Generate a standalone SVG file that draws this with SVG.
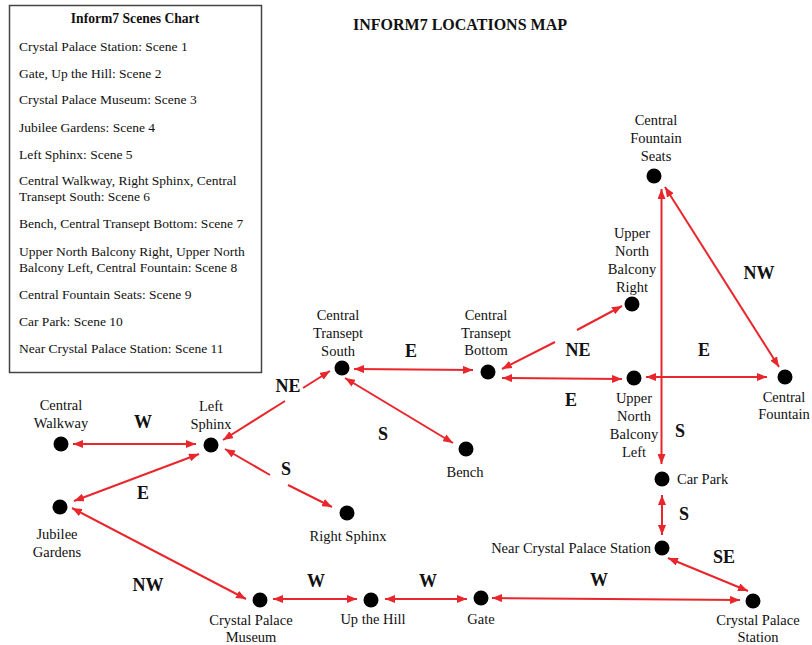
<svg xmlns="http://www.w3.org/2000/svg" width="812" height="645" viewBox="0 0 812 645">
<style>
text{font-family:"Liberation Serif","Times New Roman",serif;fill:#111}
.t{font-size:16px;font-weight:bold;text-anchor:middle}
.ct{font-size:13.6px;font-weight:bold;text-anchor:middle}
.ce{font-size:13.5px}
.n{font-size:14.5px;text-anchor:middle}
.d{font-size:18px;font-weight:bold;text-anchor:middle}
.dot{fill:#000}
.e{fill:none;stroke:#e8262b;stroke-width:2;marker-start:url(#ah);marker-end:url(#ah)}
</style>
<defs>
<marker id="ah" viewBox="0 0 10 8" refX="10" refY="4" markerWidth="10" markerHeight="8" orient="auto-start-reverse" markerUnits="userSpaceOnUse"><path d="M0,0 L10,4 L0,8 z" fill="#e8262b"/></marker>
</defs>
<rect width="812" height="645" fill="#fff"/>
<text class="t" x="460" y="30">INFORM7 LOCATIONS MAP</text>
<g id="chart">
<rect x="9.5" y="5.5" width="252" height="367" fill="#fff" stroke="#444" stroke-width="1.5"/>
<text class="ct" x="135" y="23">Inform7 Scenes Chart</text>
<text class="ce" x="19" y="51">Crystal Palace Station: Scene 1</text>
<text class="ce" x="19" y="78">Gate, Up the Hill: Scene 2</text>
<text class="ce" x="19" y="104">Crystal Palace Museum: Scene 3</text>
<text class="ce" x="19" y="132">Jubilee Gardens: Scene 4</text>
<text class="ce" x="19" y="159">Left Sphinx: Scene 5</text>
<text class="ce" x="19" y="185">Central Walkway, Right Sphinx, Central</text>
<text class="ce" x="19" y="201">Transept South: Scene 6</text>
<text class="ce" x="19" y="228">Bench, Central Transept Bottom: Scene 7</text>
<text class="ce" x="19" y="256">Upper North Balcony Right, Upper North</text>
<text class="ce" x="19" y="272">Balcony Left, Central Fountain: Scene 8</text>
<text class="ce" x="19" y="299">Central Fountain Seats: Scene 9</text>
<text class="ce" x="19" y="326">Car Park: Scene 10</text>
<text class="ce" x="19" y="353">Near Crystal Palace Station: Scene 11</text>
</g>
<g id="connectors">
<path class="e" d="M73,444 L196,444"/>
<path class="e" d="M74,501 L199,454"/>
<path class="e" d="M223,440 L285,401 M303,388 L330,371"/>
<path class="e" d="M225,449 L270,475 M288,485 L332,507"/>
<path class="e" d="M72,508 L246,599"/>
<path class="e" d="M354,369 L473,370"/>
<path class="e" d="M345,378 L453,443"/>
<path class="e" d="M502,369 L555,342 M577,330 L622,306"/>
<path class="e" d="M502,378 L622,379"/>
<path class="e" d="M646,377 L767,377"/>
<path class="e" d="M665,187 L779,367"/>
<path class="e" d="M661.5,189 L661.5,464"/>
<path class="e" d="M662,495 L662,535"/>
<path class="e" d="M668,558 L748,591"/>
<path class="e" d="M492,598 L740,600"/>
<path class="e" d="M385,599 L467,599"/>
<path class="e" d="M273,599 L357,599"/>
</g>
<g id="labels">
<text class="d" x="143" y="428">W</text>
<text class="d" x="143" y="499">E</text>
<text class="d" x="288" y="392">NE</text>
<text class="d" x="286" y="475">S</text>
<text class="d" x="383" y="440">S</text>
<text class="d" x="411" y="357">E</text>
<text class="d" x="578" y="356">NE</text>
<text class="d" x="571" y="406">E</text>
<text class="d" x="704" y="356">E</text>
<text class="d" x="759" y="279">NW</text>
<text class="d" x="680" y="437">S</text>
<text class="d" x="684" y="520">S</text>
<text class="d" x="724" y="563">SE</text>
<text class="d" x="148" y="591">NW</text>
<text class="d" x="316" y="587">W</text>
<text class="d" x="428" y="587">W</text>
<text class="d" x="599" y="586">W</text>
</g>
<g id="central-walkway"><circle class="dot" cx="61" cy="444" r="7.5"/><text class="n" x="61" y="410">Central</text><text class="n" x="61" y="428">Walkway</text></g>
<g id="left-sphinx"><circle class="dot" cx="211" cy="445" r="7.5"/><text class="n" x="211" y="411">Left</text><text class="n" x="211" y="429">Sphinx</text></g>
<g id="jubilee-gardens"><circle class="dot" cx="60" cy="507" r="7.5"/><text class="n" x="57" y="539">Jubilee</text><text class="n" x="57" y="557">Gardens</text></g>
<g id="right-sphinx"><circle class="dot" cx="347" cy="513" r="7.5"/><text class="n" x="348" y="541">Right Sphinx</text></g>
<g id="central-transept-south"><circle class="dot" cx="342" cy="368" r="7.5"/><text class="n" x="338" y="320">Central</text><text class="n" x="338" y="338">Transept</text><text class="n" x="338" y="356">South</text></g>
<g id="central-transept-bottom"><circle class="dot" cx="488" cy="372" r="7.5"/><text class="n" x="486" y="320">Central</text><text class="n" x="486" y="338">Transept</text><text class="n" x="486" y="355">Bottom</text></g>
<g id="bench"><circle class="dot" cx="466" cy="449" r="7.5"/><text class="n" x="465" y="477">Bench</text></g>
<g id="upper-north-balcony-right"><circle class="dot" cx="632" cy="304" r="7.5"/><text class="n" x="632" y="238">Upper</text><text class="n" x="632" y="256">North</text><text class="n" x="632" y="274">Balcony</text><text class="n" x="632" y="292">Right</text></g>
<g id="upper-north-balcony-left"><circle class="dot" cx="634" cy="378" r="7.5"/><text class="n" x="634" y="403">Upper</text><text class="n" x="634" y="421">North</text><text class="n" x="634" y="439">Balcony</text><text class="n" x="634" y="457">Left</text></g>
<g id="central-fountain-seats"><circle class="dot" cx="654" cy="176" r="7.5"/><text class="n" x="656" y="125">Central</text><text class="n" x="656" y="143">Fountain</text><text class="n" x="656" y="161">Seats</text></g>
<g id="central-fountain"><circle class="dot" cx="785" cy="377" r="7.5"/><text class="n" x="784" y="402">Central</text><text class="n" x="784" y="419">Fountain</text></g>
<g id="car-park"><circle class="dot" cx="662" cy="479" r="7.5"/><text class="n" x="677" y="484" style="text-anchor:start">Car Park</text></g>
<g id="near-crystal-palace-station"><circle class="dot" cx="662" cy="548" r="7.5"/><text class="n" x="651" y="553" style="text-anchor:end">Near Crystal Palace Station</text></g>
<g id="crystal-palace-station"><circle class="dot" cx="753" cy="601" r="7.5"/><text class="n" x="758" y="625">Crystal Palace</text><text class="n" x="758" y="642">Station</text></g>
<g id="gate"><circle class="dot" cx="481" cy="598" r="7.5"/><text class="n" x="481" y="624">Gate</text></g>
<g id="up-the-hill"><circle class="dot" cx="371" cy="600" r="7.5"/><text class="n" x="373" y="624">Up the Hill</text></g>
<g id="crystal-palace-museum"><circle class="dot" cx="260" cy="600" r="7.5"/><text class="n" x="251" y="625">Crystal Palace</text><text class="n" x="251" y="642">Museum</text></g>
</svg>
